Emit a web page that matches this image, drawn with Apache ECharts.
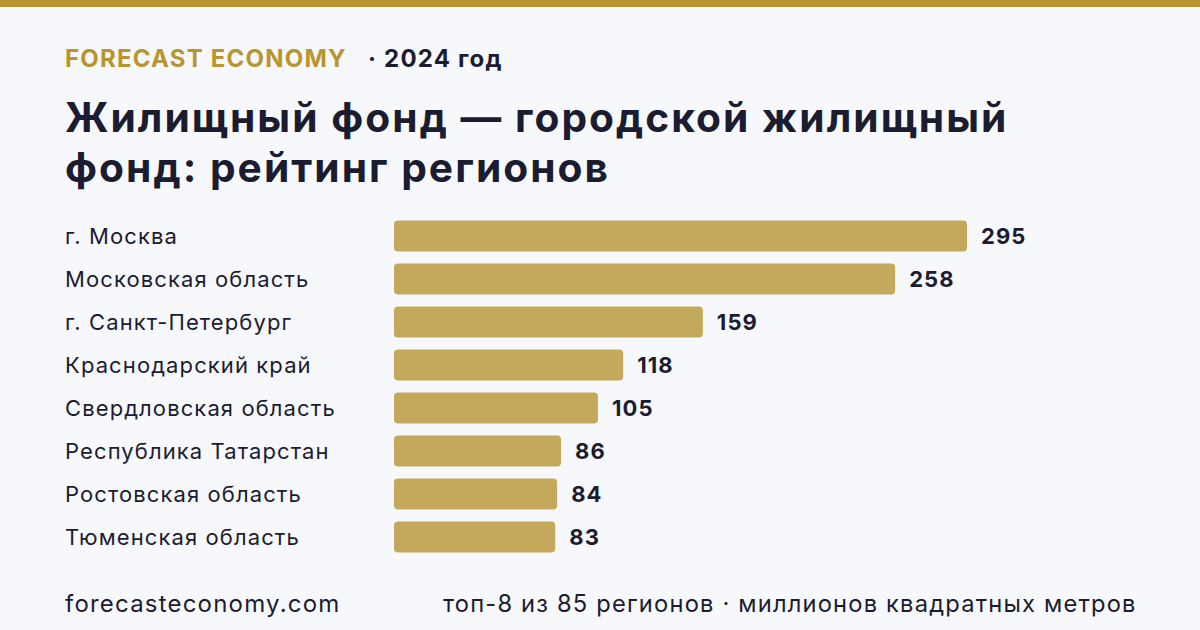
<!DOCTYPE html>
<html>
<head>
<meta charset="utf-8">
<script src="https://cdn.jsdelivr.net/npm/echarts@6/dist/echarts.min.js"></script>
<style>
  html, body { margin: 0; padding: 0; background: #f7f8fc; }
  #chart { width: 1200px; height: 630px; }
  /* в оригинале шрифт чуть разреженнее */
  #chart svg text { letter-spacing: 0.05em; }
</style>
</head>
<body>
<div id="chart"></div>
<script>
// регионы и значения (млн кв. м)
const regions = [
  'г. Москва',
  'Московская область',
  'г. Санкт-Петербург',
  'Краснодарский край',
  'Свердловская область',
  'Республика Татарстан',
  'Ростовская область',
  'Тюменская область'
]
const values = [295, 258, 159, 118, 105, 86, 84, 83]

const brand = 'FORECAST ECONOMY'
const yearText = '· 2024 год'
const titleLines = ['Жилищный фонд — городской жилищный', 'фонд: рейтинг регионов']
const siteText = 'forecasteconomy.com'
const noteText = 'топ-8 из 85 регионов · миллионов квадратных метров'

const font = 'Inter, "Noto Sans", sans-serif'
const dark = '#1c1c30'
const gold = '#b8952e'

const chart = echarts.init(document.getElementById('chart'), null, { renderer: 'svg' })

const option = {
  backgroundColor: '#f7f8fc',
  animation: false,
  graphic: [
    // верхняя полоса
    { type: 'rect', left: 0, top: 0, shape: { width: 1200, height: 7 }, style: { fill: gold } },
    {
      type: 'text', left: 65, top: 46,
      style: { text: brand, fill: gold, font: '700 24px ' + font }
    },
    {
      type: 'text', left: 368, top: 46,
      style: { text: yearText, fill: dark, font: '700 24px ' + font }
    },
    {
      type: 'text', left: 65, top: 92,
      style: { text: titleLines.join('\n'), fill: dark, font: '700 40.7px ' + font, lineHeight: 50 }
    },
    {
      type: 'text', left: 65, top: 591,
      style: { text: siteText, fill: dark, font: '400 24px ' + font }
    },
    {
      type: 'text', left: 443, top: 591,
      style: { text: noteText, fill: dark, font: '400 23.7px ' + font }
    }
  ],
  grid: { left: 394, right: 233, top: 214.5, height: 344 },
  xAxis: {
    type: 'value',
    min: 0,
    max: 295,
    show: false
  },
  yAxis: {
    type: 'category',
    inverse: true,
    data: regions,
    axisLine: { show: false },
    axisTick: { show: false },
    axisLabel: {
      align: 'left',
      margin: 329,
      color: dark,
      fontSize: 22,
      fontFamily: font
    }
  },
  series: [
    {
      type: 'bar',
      data: values,
      barWidth: 31,
      itemStyle: { color: '#c4a95c', borderRadius: 4 },
      label: {
        show: true,
        position: 'right',
        distance: 14,
        color: dark,
        fontSize: 22,
        fontWeight: 700,
        fontFamily: font
      }
    }
  ]
}

chart.setOption(option)
</script>
</body>
</html>
